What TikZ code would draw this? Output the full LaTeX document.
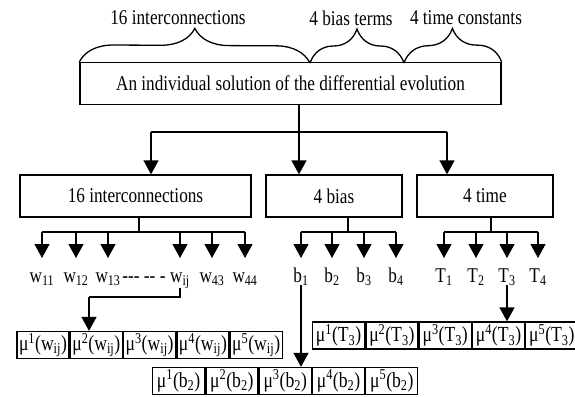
\documentclass[tikz,border=0pt]{standalone}
\usepackage{fontspec}
\setmainfont{Liberation Serif}[FakeStretch=0.82]
\usetikzlibrary{arrows.meta,positioning,decorations.pathreplacing}
\tikzstyle{blk}=[rectangle,draw,line width=1.3pt,inner sep=0pt,minimum height=42pt]
\tikzstyle{memb}=[rectangle,draw,line width=1.3pt,inner sep=0pt,minimum width=52pt,minimum height=27pt,font=\fontsize{21.5}{24}\selectfont]
\tikzstyle{par}=[inner sep=0pt,anchor=base]
\tikzstyle{wire}=[line width=1.3pt]
\tikzstyle{down}=[line width=1.3pt,-{Triangle[length=14pt,width=15pt]}]
\tikzstyle{brc}=[line width=1.3pt,decorate,decoration={brace,amplitude=34pt}]

\begin{document}
\begin{tikzpicture}[x=1pt,y=-1pt,font=\fontsize{21}{24}\selectfont]
          \useasboundingbox (0,0) rectangle (575,396);

          % the individual and its three parts
          \node[blk,minimum width=421pt] (sol) at (290.5,83.5) {An individual solution of the differential evolution};
          \coordinate (c1) at (310,63);
          \coordinate (c2) at (404,63);
          \draw[brc] (sol.north west) -- (c1);
          \draw[brc] (c1) -- (c2);
          \draw[brc] (c2) -- (sol.north east);
          \node (lw) at (178,18) {16 interconnections};
          \node (lb) at (351,18) {4 bias terms};
          \node (lt) at (466,18) {4 time constants};

          \node[blk,minimum width=231pt] (inter) at (135.5,196) {16 interconnections};
          \node[blk,minimum width=136pt] (bias)  at (334,196)   {4 bias};
          \node[blk,minimum width=136pt] (time)  at (485,196)   {4 time};

          \coordinate (fan) at (299,132);
          \coordinate (f1)  at (151,132);
          \coordinate (f3)  at (447,132);
          \draw[wire] (sol.south -| fan) -- (fan);
          \draw[wire] (f1) -- (f3);
          \draw[down] (f1)  -- (f1 |- inter.north);
          \draw[down] (fan) -- (fan |- bias.north);
          \draw[down] (f3)  -- (f3 |- time.north);

          % weights
          \node[par] (w11)  at (42,282)  {w\textsubscript{11}};
          \node[par] (w12)  at (76,282)  {w\textsubscript{12}};
          \node[par] (w13)  at (108,282) {w\textsubscript{13}};
          \node[par] (dots) at (144,282) {{-}{-}{-} {-}{-} {-}};
          \node[par] (wij)  at (180,282) {w\textsubscript{ij}};
          \node[par] (w43)  at (212,282) {w\textsubscript{43}};
          \node[par] (w44)  at (245,282) {w\textsubscript{44}};

          \coordinate (wb) at (139,232);
          \draw[wire] (inter.south -| wb) -- (wb);
          \draw[wire] (w11 |- wb) -- (w44 |- wb);
          \draw[down] (w11 |- wb) -- ++(0,26);
          \draw[down] (w12 |- wb) -- ++(0,26);
          \draw[down] (w13 |- wb) -- ++(0,26);
          \draw[down] (wij |- wb) -- ++(0,26);
          \draw[down] (w43 |- wb) -- ++(0,26);
          \draw[down] (w44 |- wb) -- ++(0,26);

          % biases
          \node[par] (b1) at (301,282) {b\textsubscript{1}};
          \node[par] (b2) at (332,282) {b\textsubscript{2}};
          \node[par] (b3) at (364,282) {b\textsubscript{3}};
          \node[par] (b4) at (396,282) {b\textsubscript{4}};

          \coordinate (bb) at (348,232);
          \draw[wire] (bias.south -| bb) -- (bb);
          \draw[wire] (b1 |- bb) -- (b4 |- bb);
          \draw[down] (b1 |- bb) -- ++(0,26);
          \draw[down] (b2 |- bb) -- ++(0,26);
          \draw[down] (b3 |- bb) -- ++(0,26);
          \draw[down] (b4 |- bb) -- ++(0,26);

          % time constants
          \node[par] (T1) at (444,282) {T\textsubscript{1}};
          \node[par] (T2) at (476,282) {T\textsubscript{2}};
          \node[par] (T3) at (507,282) {T\textsubscript{3}};
          \node[par] (T4) at (538,282) {T\textsubscript{4}};

          \coordinate (tb) at (491,232);
          \draw[wire] (time.south -| tb) -- (tb);
          \draw[wire] (T1 |- tb) -- (T4 |- tb);
          \draw[down] (T1 |- tb) -- ++(0,26);
          \draw[down] (T2 |- tb) -- ++(0,26);
          \draw[down] (T3 |- tb) -- ++(0,26);
          \draw[down] (T4 |- tb) -- ++(0,26);

          % membership functions
          \node[memb] (mw1) at (43,345) {μ\textsuperscript{1}(w\textsubscript{ij})};
          \node[memb,right=0pt of mw1] (mw2) {μ\textsuperscript{2}(w\textsubscript{ij})};
          \node[memb,right=0pt of mw2] (mw3) {μ\textsuperscript{3}(w\textsubscript{ij})};
          \node[memb,right=0pt of mw3] (mw4) {μ\textsuperscript{4}(w\textsubscript{ij})};
          \node[memb,right=0pt of mw4] (mw5) {μ\textsuperscript{5}(w\textsubscript{ij})};

          \node[memb] (mb1) at (178.6,381) {μ\textsuperscript{1}(b\textsubscript{2})};
          \node[memb,right=0pt of mb1] (mb2) {μ\textsuperscript{2}(b\textsubscript{2})};
          \node[memb,right=0pt of mb2] (mb3) {μ\textsuperscript{3}(b\textsubscript{2})};
          \node[memb,right=0pt of mb3] (mb4) {μ\textsuperscript{4}(b\textsubscript{2})};
          \node[memb,right=0pt of mb4] (mb5) {μ\textsuperscript{5}(b\textsubscript{2})};

          \node[memb] (mt1) at (338.6,335.5) {μ\textsuperscript{1}(T\textsubscript{3})};
          \node[memb,right=0pt of mt1] (mt2) {μ\textsuperscript{2}(T\textsubscript{3})};
          \node[memb,right=0pt of mt2] (mt3) {μ\textsuperscript{3}(T\textsubscript{3})};
          \node[memb,right=0pt of mt3] (mt4) {μ\textsuperscript{4}(T\textsubscript{3})};
          \node[memb,right=0pt of mt4] (mt5) {μ\textsuperscript{5}(T\textsubscript{3})};

          \coordinate (wj) at (89,297);
          \draw[wire] (wij.south) |- (wj);
          \draw[down] (wj) -- (wj |- mw2.north);
          \draw[down] (b1.south) -- (b1.south |- mb3.north);
          \draw[down] (T3.south) -- (T3.south |- mt4.north);
        \end{tikzpicture}
\end{document}
